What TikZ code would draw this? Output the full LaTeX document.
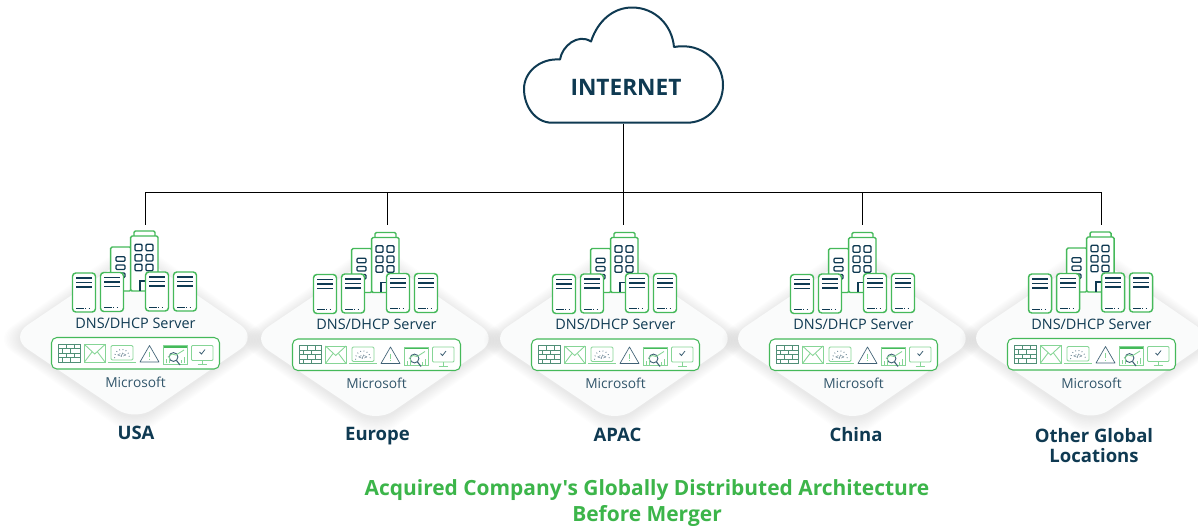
\documentclass[tikz,border=0pt]{standalone}
\usepackage{fontspec}
\setmainfont{Open Sans}
\newfontfamily\straightfont{Open Sans}
\definecolor{navy}{HTML}{0F3A52}
\definecolor{grn}{HTML}{45B95A}
\definecolor{lgrn}{HTML}{86D596}
\definecolor{titlegrn}{HTML}{3CB54A}
\definecolor{plate}{HTML}{FAFBFB}
\tikzset{
  wire/.style={draw=black,line width=0.75pt},
  gbox/.style={draw=grn,line width=1.1pt,fill=white,rounded corners=2.5pt},
  navyline/.style={draw=navy,line width=0.95pt},
  icon/.style={draw=lgrn,line width=0.65pt},
  iconn/.style={draw=navy!80!white,line width=0.5pt},
  brick/.style={draw=navy!45!lgrn,line width=0.45pt},
  smalltext/.style={text=navy,font=\fontsize{10.8pt}{12pt}\selectfont,inner sep=0pt},
  mstext/.style={text=navy!85!white,font=\fontsize{10.3pt}{12pt}\selectfont,inner sep=0pt},
  sitelabel/.style={text=navy,font=\fontsize{13.9pt}{15pt}\selectfont\bfseries,align=center,inner sep=0pt},
  titletext/.style={text=titlegrn,font=\straightfont\fontsize{15.7pt}{19.5pt}\selectfont\bfseries,align=center,inner sep=0pt}
}
\newcommand{\diamondpath}[1]{(9.7-#1,337) -- (135,252.5-#1) -- (258+#1,337) -- (135,421.5+#1) -- cycle}
\newcommand{\serverbox}[2]{%
  \draw[gbox] (#1,#2) rectangle ++(23,39);
  \foreach \yy in {5,9.5,14} {\draw[navyline] (#1+3.5,#2+\yy) -- ++(16,0);}
  \draw[navyline,line width=0.7pt] (#1+3.5,#2+35) -- ++(8,0);
  \draw[navyline,line width=0.7pt,dotted] (#1+12.5,#2+35) -- ++(7,0);
}
\newcommand{\site}[7]{% id, dx, dy, connector x, label x, label y, label
  \begin{scope}[shift={(#2,#3)}]
    \foreach \g in {16,14.5,13,11.5,10,8.5,7,5.5,4,2.5,1} {\fill[black,opacity=0.009,rounded corners=16pt,yshift=-1.5pt] \diamondpath{\g};}
    \fill[plate,rounded corners=16pt] \diamondpath{0};
    % building
    \draw[gbox,rounded corners=1pt] (110.7,247) rectangle (131,291);
    \foreach \yy in {256.7,265,273} {\draw[navyline,rounded corners=0.8pt] (116,\yy) rectangle ++(9,4.6);}
    \draw[gbox,rounded corners=1pt] (134,236) -- (134,231) -- (155,231) -- (155,236);
    \draw[gbox,rounded corners=1pt] (130.7,236) rectangle (158,291);
    \foreach \yy in {244.3,254.5,264.3} {
      \draw[navyline,rounded corners=0.8pt] (135,\yy) rectangle ++(7,6.5);
      \draw[navyline,rounded corners=0.8pt] (146,\yy) rectangle ++(7,6.5);
    }
    \draw[navyline] (140,290.5) -- (140,281) -- (148,281);
    \serverbox{72.5}{273}
    \serverbox{100.5}{272.5}
    \serverbox{145.5}{272}
    \serverbox{173.5}{272}
    \node[smalltext] (#1dns) at (135.5,323) {DNS/DHCP Server};
    % product box
    \draw[draw=grn,line width=0.8pt,fill=white,rounded corners=4pt] (51.5,337.5) rectangle (219.5,369);
    % firewall
    \draw[brick] (58.5,344) rectangle (80.5,362);
    \foreach \yy in {348.5,353,357.5} {\draw[brick] (58.5,\yy) -- (80.5,\yy);}
    \foreach \xx/\ya/\yb in {66/344/348.5,74/344/348.5,62/348.5/353,70/348.5/353,66/353/357.5,74/353/357.5,62/357.5/362,70/357.5/362} {\draw[brick] (\xx,\ya) -- (\xx,\yb);}
    % envelope
    \draw[icon] (84.5,344.5) rectangle (105,362);
    \draw[icon] (84.5,344.5) -- (94.7,354) -- (105,344.5);
    \draw[icon] (84.5,362) -- (92,352);
    \draw[icon] (105,362) -- (97.5,352);
    % laptop
    \draw[icon,rounded corners=1pt] (111,345.5) rectangle (133,360);
    \draw[icon] (108,362) -- (136,362);
    \draw[iconn,dotted,line width=0.7pt] (114.5,358) .. controls (114.5,346.5) and (129.5,346.5) .. (129.5,358);
    \node[text=navy,inner sep=0pt,font=\fontsize{4.5pt}{5pt}\selectfont] (#1code) at (122,355.5) {</>};
    % warning
    \draw[iconn,line join=round] (149.5,345.5) -- (159,362) -- (140,362) -- cycle;
    \draw[icon] (149.5,352) -- (149.5,357);
    \draw[icon] (149.5,358.5) -- (149.5,359.8);
    % window
    \draw[icon] (163.5,345.5) rectangle (187,364);
    \draw[grn,line width=1.2pt] (163.5,347) -- (187,347);
    \draw[iconn,line width=0.7pt] (173.5,357) circle[radius=4.4];
    \draw[iconn,line width=0.8pt] (176.5,360.5) -- (180,365);
    \draw[icon] (168,357) -- (172,354) -- (176,355) -- (184,350);
    \foreach \xx/\h in {166/4,169/6,181/3,184/6} {\draw[icon] (\xx,363) -- ++(0,-\h);}
    % monitor
    \draw[icon,rounded corners=0.8pt] (191.5,345.5) rectangle (213,360.5);
    \draw[icon] (202,360.5) -- (202,364);
    \draw[icon] (197.5,364.5) -- (206.5,364.5);
    \draw[iconn,line width=0.6pt] (199.5,352) -- (201.5,354) -- (205,349.5);
    \node[mstext] (#1ms) at (135.5,382) {Microsoft};
  \end{scope}
  \node[sitelabel] (#1label) at (#5,#6) {#7};
  \coordinate (#1top) at (#4,225);
  \coordinate (#1junction) at (#4,192);
  \draw[wire] (#1junction) -- (#1top);
}
\begin{document}
\begin{tikzpicture}[x=0.75pt,y=-0.75pt]
\useasboundingbox (0,0) rectangle (1198,526);
\fill[white] (0,0) rectangle (1198,526);
\site{usa}{0}{0}{145.5}{136}{432.5}{USA}
\site{eur}{241}{1.5}{387}{377.5}{436}{Europe}
\site{apac}{480}{1.5}{623.5}{617.5}{434.5}{APAC}
\site{china}{718}{1.5}{862}{856}{434.5}{China}
\site{other}{956}{1}{1101.5}{1094}{445.5}{Other Global\\Locations}
% cloud
\draw[navy,line width=1.5pt,fill=white,line join=round]
  (552,122.7) .. controls (535,122.7) and (524,106) .. (524,89)
  .. controls (524,72) and (540,58) .. (560,59.5)
  .. controls (562,46) and (578,33) .. (591,41.5)
  .. controls (598,20) and (614,7.5) .. (632,7.5)
  .. controls (655,7.5) and (672,25) .. (674,47)
  .. controls (702,42) and (723,62) .. (723,85)
  .. controls (723,106) and (707,122.7) .. (687,122.7) -- cycle;
\node[text=navy,font=\fontsize{17pt}{20pt}\selectfont\bfseries,inner sep=0pt] (internet) at (626,87) {INTERNET};
\coordinate (cloudbase) at (623.5,123.5);
\draw[wire] (cloudbase) -- (apacjunction);
\draw[wire] (usajunction) -- (otherjunction);
\node[titletext] (title) at (647,503) {Acquired Company's Globally Distributed Architecture\\Before Merger};
\end{tikzpicture}
\end{document}
